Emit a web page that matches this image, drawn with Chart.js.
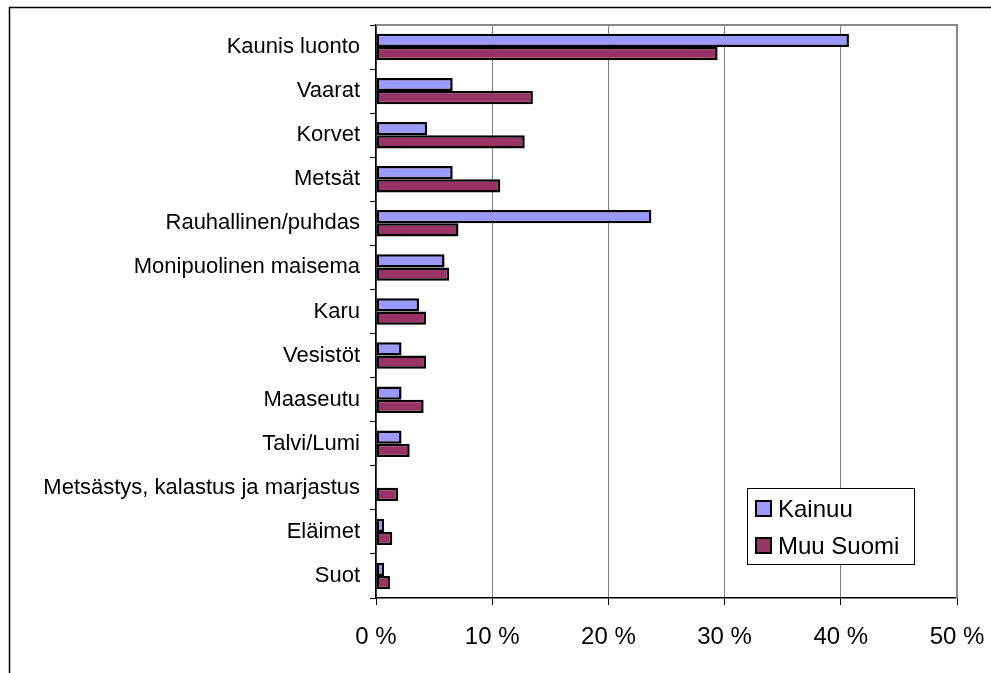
<!DOCTYPE html>
<html>
<head>
<meta charset="utf-8">
<script src="https://cdn.jsdelivr.net/npm/chart.js@4/dist/chart.umd.min.js"></script>
<style>
  html, body { margin: 0; padding: 0; background: #ffffff; }
  canvas { display: block; }
</style>
</head>
<body>
<canvas id="c" width="991" height="673"></canvas>
<script>
const categories = [
  "Kaunis luonto", "Vaarat", "Korvet", "Metsät", "Rauhallinen/puhdas",
  "Monipuolinen maisema", "Karu", "Vesistöt", "Maaseutu", "Talvi/Lumi",
  "Metsästys, kalastus ja marjastus", "Eläimet", "Suot"
];
const seriesNames = ["Kainuu", "Muu Suomi"];
const kainuu   = [40.7, 6.6, 4.4, 6.6, 23.7, 5.9, 3.7, 2.2, 2.2, 2.2, 0, 0.7, 0.7];
const muuSuomi = [29.4, 13.5, 12.8, 10.7, 7.1, 6.3, 4.3, 4.3, 4.1, 2.9, 1.9, 1.4, 1.2];
const xTicks = [0, 10, 20, 30, 40, 50];

const FONT = "'Liberation Sans', Arial, sans-serif";
const colors = ["#9999FF", "#993366"];

const framePlugin = {
  id: 'frame',
  beforeDraw(chart) {
    const ctx = chart.ctx;
    ctx.save();
    ctx.strokeStyle = '#000';
    ctx.lineWidth = 1.5;
    ctx.beginPath();
    ctx.moveTo(9.5, 673);
    ctx.lineTo(9.5, 7.5);
    ctx.lineTo(991, 7.5);
    ctx.stroke();
    ctx.restore();
  },
  afterDatasetsDraw(chart) {
    const a = chart.chartArea, ctx = chart.ctx;
    ctx.save();
    ctx.strokeStyle = '#888';
    ctx.lineWidth = 2;
    ctx.beginPath();
    ctx.moveTo(a.left, a.top);
    ctx.lineTo(a.right, a.top);
    ctx.lineTo(a.right, a.bottom);
    ctx.stroke();
    ctx.restore();
  }
};

const legendPlugin = {
  id: 'boxLegend',
  afterDraw(chart) {
    const ctx = chart.ctx;
    const x = 747, y = 488, w = 167, h = 76;
    ctx.save();
    ctx.fillStyle = '#fff';
    ctx.fillRect(x, y, w, h);
    ctx.strokeStyle = '#000';
    ctx.lineWidth = 1;
    ctx.strokeRect(x + 0.5, y + 0.5, w, h);
    ctx.font = '24px ' + FONT;
    ctx.textBaseline = 'middle';
    chart.data.datasets.forEach((ds, i) => {
      const cy = 509 + i * 37;
      ctx.fillStyle = ds.backgroundColor;
      ctx.fillRect(756, cy - 8, 15, 15);
      ctx.strokeStyle = '#000';
      ctx.lineWidth = 2;
      ctx.strokeRect(756, cy - 8, 15, 15);
      ctx.fillStyle = '#000';
      ctx.fillText(ds.label, 778, cy + 1);
    });
    ctx.restore();
  }
};

new Chart(document.getElementById('c'), {
  type: 'bar',
  data: {
    labels: categories,
    datasets: [
      { label: seriesNames[0], data: kainuu, backgroundColor: colors[0] },
      { label: seriesNames[1], data: muuSuomi, backgroundColor: colors[1] }
    ]
  },
  options: {
    indexAxis: 'y',
    responsive: false,
    animation: false,
    layout: { padding: { left: 0, top: 25, right: 34, bottom: 0 } },
    datasets: {
      bar: {
        borderColor: '#000',
        borderWidth: 2.5,
        borderSkipped: false,
        categoryPercentage: 0.6,
        barPercentage: 1.0
      }
    },
    plugins: {
      legend: { display: false },
      tooltip: { enabled: false }
    },
    scales: {
      x: {
        type: 'linear',
        position: 'bottom',
        min: 0, max: 50,
        afterBuildTicks(scale) { scale.ticks = xTicks.map(v => ({ value: v })); },
        afterFit(scale) { scale.height = 75; scale.paddingLeft = 0; scale.paddingRight = 0; },
        grid: {
          color: '#808080',
          lineWidth: 1,
          tickColor: '#000',
          tickLength: 7,
          drawTicks: true
        },
        border: { color: '#000', width: 1.5 },
        ticks: {
          callback: v => v + ' %',
          color: '#000',
          font: { family: FONT, size: 24 },
          padding: 18,
          maxRotation: 0
        }
      },
      y: {
        type: 'category',
        offset: true,
        afterFit(scale) { scale.width = 376; scale.paddingTop = 0; scale.paddingBottom = 0; },
        grid: {
          offset: true,
          drawOnChartArea: false,
          drawTicks: true,
          tickLength: 6,
          color: '#000',
          tickColor: '#000'
        },
        border: { color: '#000', width: 1.5 },
        ticks: {
          color: '#000',
          font: { family: FONT, size: 22 },
          padding: 10,
          autoSkip: false
        }
      }
    }
  },
  plugins: [framePlugin, legendPlugin]
});
</script>
</body>
</html>
